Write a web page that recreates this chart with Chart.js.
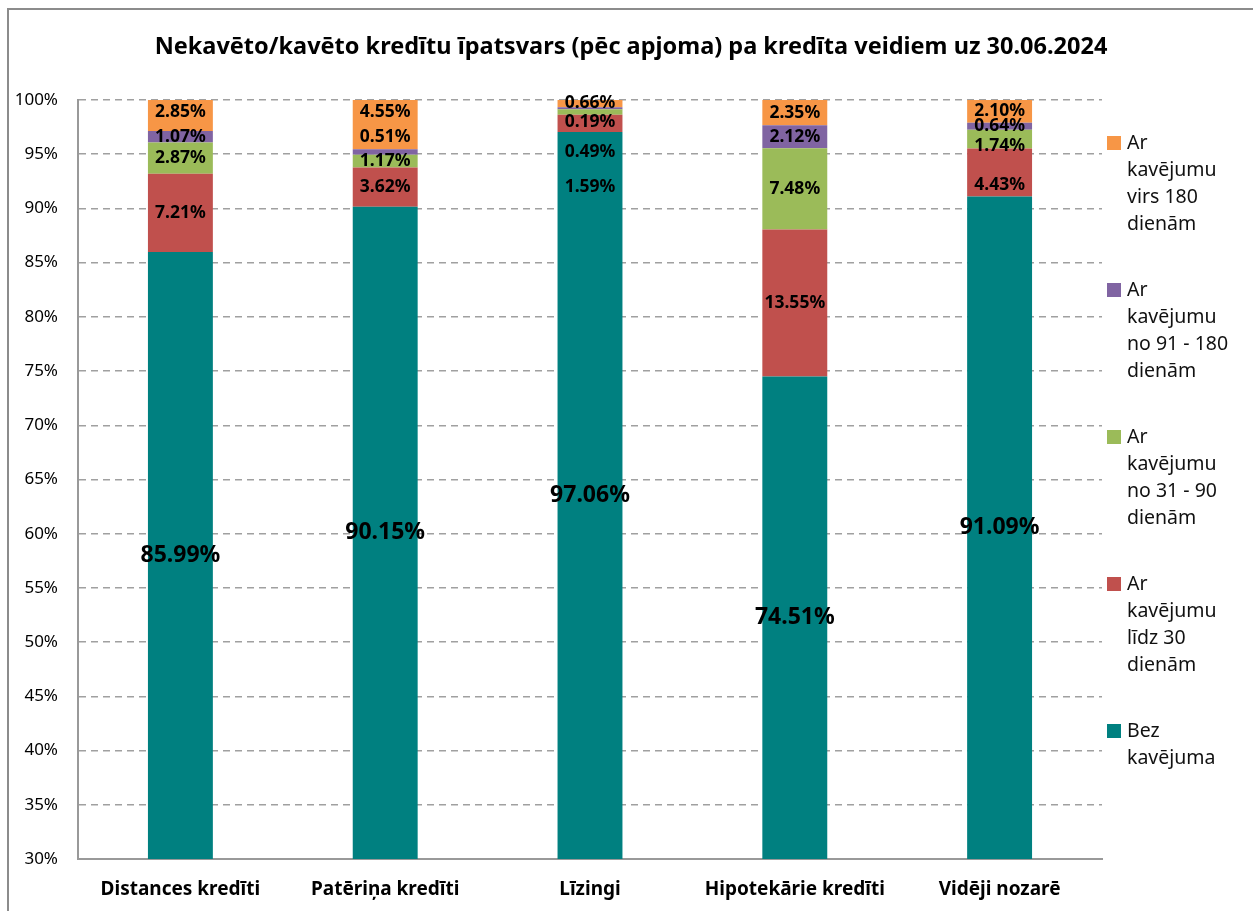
<!DOCTYPE html>
<html lang="lv">
<head>
<meta charset="utf-8">
<title>Nekavēto/kavēto kredītu īpatsvars</title>
<script src="https://cdn.jsdelivr.net/npm/chart.js@4.4.1/dist/chart.umd.min.js"></script>
<style>
  body { margin: 0; background: #fff; font-family: "Noto Sans", sans-serif; }
  #wrap { position: relative; width: 1253px; height: 911px; overflow: hidden; }
  #frame { position: absolute; left: 7px; top: 8px; width: 1300px; height: 1000px;
           border-left: 2px solid #8c8c8c; border-top: 2px solid #8c8c8c; }
  #title { position: absolute; left: 131px; width: 1000px; top: 29px; text-align: center;
           font-size: 23.5px; font-weight: bold; line-height: 32px; color: #000; }
  #legend { position: absolute; left: 1107px; top: 128px; font-size: 19.5px; line-height: 27px; color: #111; }
  .item { display: flex; align-items: flex-start; margin-bottom: 39px; }
  .box { width: 14px; height: 14px; margin-top: 8px; margin-right: 6px; flex: none; }
  .txt { width: 110px; }
</style>
</head>
<body>
<div id="wrap">
  <div id="frame"></div>
  <canvas id="chart" width="1253" height="911"></canvas>
  <div id="title">Nekavēto/kavēto kredītu īpatsvars (pēc apjoma) pa kredīta veidiem uz 30.06.2024</div>
  <div id="legend"></div>
</div>
<script>
// kategorijas un dati (%)
const categories = ['Distances kredīti', 'Patēriņa kredīti', 'Līzingi', 'Hipotekārie kredīti', 'Vidēji nozarē'];
const bezKavejuma = [85.99, 90.15, 97.06, 74.51, 91.09];
const lidz30 = [7.21, 3.62, 1.59, 13.55, 4.43];
const no31lidz90 = [2.87, 1.17, 0.49, 7.48, 1.74];
const no91lidz180 = [1.07, 0.51, 0.19, 2.12, 0.64];
const virs180 = [2.85, 4.55, 0.66, 2.35, 2.10];
const yTicks = [30, 35, 40, 45, 50, 55, 60, 65, 70, 75, 80, 85, 90, 95, 100];

const seriesNames = ['Bez kavējuma', 'Ar kavējumu līdz 30 dienām', 'Ar kavējumu no 31 - 90 dienām',
  'Ar kavējumu no 91 - 180 dienām', 'Ar kavējumu virs 180 dienām'];
const seriesData = [bezKavejuma, lidz30, no31lidz90, no91lidz180, virs180];
const colors = ['#008080', '#C0504D', '#9BBB59', '#8064A2', '#F79646'];

// label shifts (px) where Excel labels were moved by hand
const labelNudge = {
  '4-0': -4,
  '4-1': -13, '3-1': -15,
  '1-2': 64, '2-2': 40, '3-2': 14, '4-2': -1,
  '2-4': 7, '1-4': 12
};

const barLabels = {
  id: 'barLabels',
  afterDatasetsDraw(chart) {
    const c = chart.ctx;
    const area = chart.chartArea;
    c.save();
    c.textAlign = 'center';
    c.textBaseline = 'middle';
    c.fillStyle = '#000';
    chart.data.datasets.forEach((ds, di) => {
      chart.getDatasetMeta(di).data.forEach((bar, i) => {
        const top = Math.max(Math.min(bar.y, bar.base), area.top);
        const bottom = Math.min(Math.max(bar.y, bar.base), area.bottom);
        const y = (top + bottom) / 2 + (labelNudge[di + '-' + i] || 0);
        c.font = di === 0 ? 'bold 23px "Noto Sans"' : 'bold 17.5px "Noto Sans"';
        c.fillText(ds.data[i].toFixed(2) + '%', bar.x, y);
      });
    });
    c.restore();
  }
};

const ctx = document.getElementById('chart').getContext('2d');
new Chart(ctx, {
  type: 'bar',
  data: {
    labels: categories,
    datasets: seriesData.map((d, k) => ({
      label: seriesNames[k],
      data: d,
      backgroundColor: colors[k],
      barPercentage: 1,
      categoryPercentage: 0.317
    }))
  },
  options: {
    responsive: false,
    animation: false,
    layout: { padding: { left: 0, right: 151, top: 100, bottom: 0 } },
    plugins: {
      legend: { display: false },
      tooltip: { enabled: false },
      title: { display: false }
    },
    scales: {
      x: {
        stacked: true,
        grid: { display: false, drawTicks: false },
        border: { display: true, color: '#999', width: 2 },
        ticks: { color: '#000', padding: 19, font: { family: 'Noto Sans', size: 19, weight: 'bold' } },
        afterFit(scale) { scale.height = 52; }
      },
      y: {
        stacked: true,
        min: 30,
        max: 100,
        afterBuildTicks(scale) { scale.ticks = yTicks.map(v => ({ value: v })); },
        grid: { color: '#a0a0a0', lineWidth: 1.5, drawTicks: false },
        border: { display: true, color: '#999', width: 2, dash: [7, 5] },
        ticks: {
          color: '#000', padding: 20,
          font: { family: 'Noto Sans', size: 17 },
          callback: v => v + '%'
        },
        afterFit(scale) { scale.width = 78; }
      }
    }
  },
  plugins: [barLabels]
});

// legenda labajā pusē (apgrieztā secībā)
const legend = document.getElementById('legend');
for (let k = seriesNames.length - 1; k >= 0; k--) {
  const item = document.createElement('div');
  item.className = 'item';
  item.innerHTML = '<span class="box" style="background:' + colors[k] + '"></span><span class="txt">' + seriesNames[k] + '</span>';
  legend.appendChild(item);
}
</script>
</body>
</html>
